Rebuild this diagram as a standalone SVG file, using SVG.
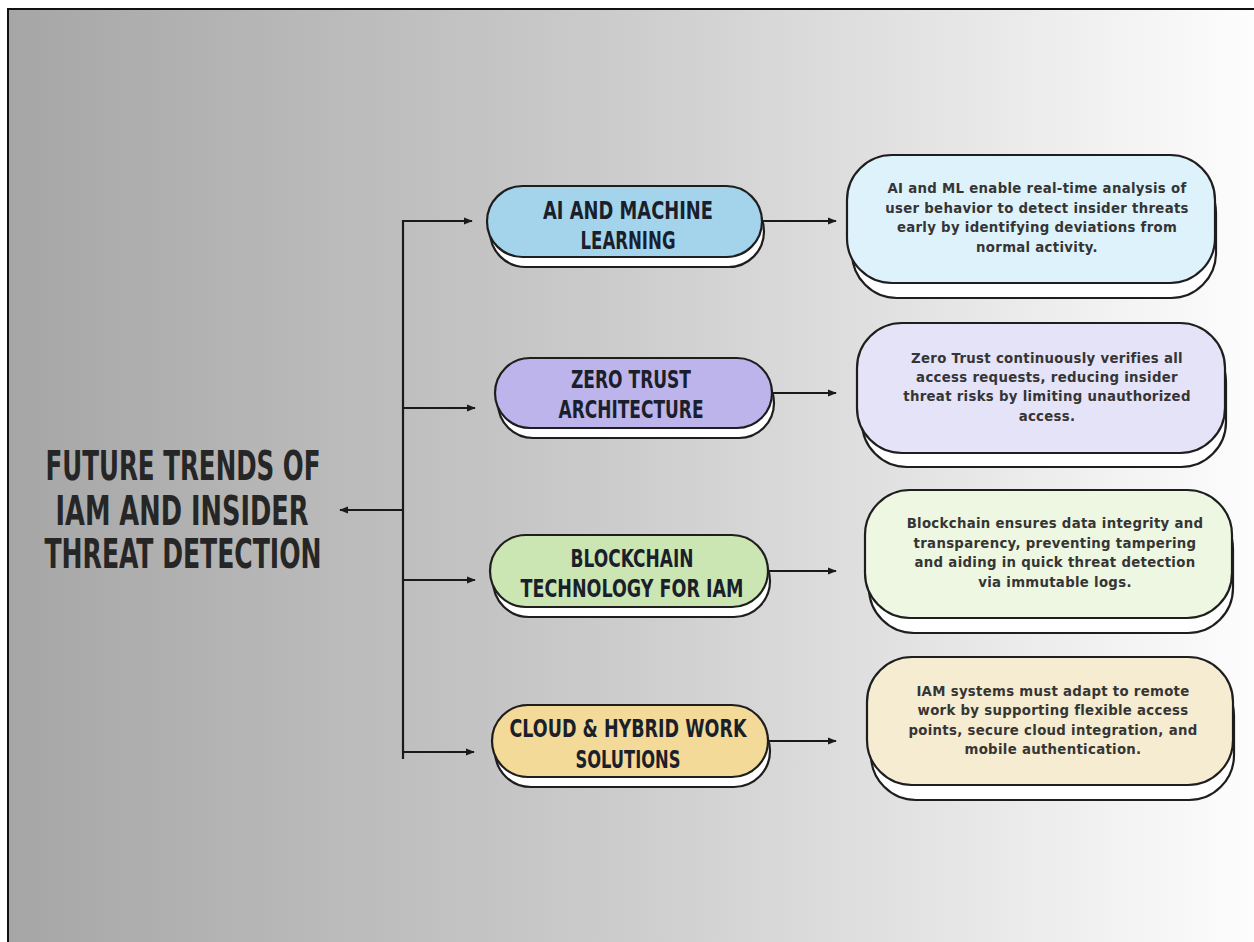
<svg xmlns="http://www.w3.org/2000/svg" width="1254" height="942" viewBox="0 0 1254 942">
<defs>
<linearGradient id="bg" x1="0" y1="0" x2="1" y2="0">
<stop offset="0" stop-color="#a6a6a6"/>
<stop offset="0.5" stop-color="#cdcdcd"/>
<stop offset="1" stop-color="#fdfdfd"/>
</linearGradient>
<marker id="ah" viewBox="0 0 10 10" refX="9" refY="5" markerWidth="9" markerHeight="9" markerUnits="userSpaceOnUse" orient="auto">
<path d="M0,1 L10,5 L0,9 Z" fill="#1a1a1a"/>
</marker>
<style>
.ln{stroke:#1a1a1a;stroke-width:2.2;fill:none}
.pill{stroke:#1e1e1e;stroke-width:2.2}
.sh{fill:#ffffff;stroke:#1e1e1e;stroke-width:2.2}
.pt{font-family:"DejaVu Sans Condensed","DejaVu Sans",sans-serif;font-weight:bold;font-size:25px;fill:#1b1f2b;text-anchor:middle}
.dt{font-family:"DejaVu Sans",Verdana,sans-serif;font-weight:bold;font-size:13.3px;letter-spacing:0.3px;fill:#353535;text-anchor:middle}
.tt{font-family:"DejaVu Sans Condensed","DejaVu Sans",sans-serif;font-weight:bold;font-size:40px;fill:#262626;text-anchor:middle}
</style>
</defs>
<rect x="0" y="0" width="1254" height="942" fill="#ffffff"/>
<rect x="8" y="9" width="1246" height="933" fill="url(#bg)"/>
<path d="M8,942 L8,9 L1254,9" stroke="#111" stroke-width="2" fill="none"/>

<g id="title">
<text class="tt" x="183" y="480" textLength="275" lengthAdjust="spacingAndGlyphs">FUTURE TRENDS OF</text>
<text class="tt" x="182" y="525" textLength="253" lengthAdjust="spacingAndGlyphs">IAM AND INSIDER</text>
<text class="tt" x="183" y="568" textLength="277" lengthAdjust="spacingAndGlyphs">THREAT DETECTION</text>
</g>

<g id="connectors">
<path class="ln" d="M403,220 L403,759"/>
<path class="ln" d="M403,510 L340,510" marker-end="url(#ah)"/>
<path class="ln" d="M402,221 L472,221" marker-end="url(#ah)"/>
<path class="ln" d="M402,408 L475,408" marker-end="url(#ah)"/>
<path class="ln" d="M402,580 L475,580" marker-end="url(#ah)"/>
<path class="ln" d="M402,752 L474,752" marker-end="url(#ah)"/>
<path class="ln" d="M762,221 L836,221" marker-end="url(#ah)"/>
<path class="ln" d="M772,393 L836,393" marker-end="url(#ah)"/>
<path class="ln" d="M768,571 L836,571" marker-end="url(#ah)"/>
<path class="ln" d="M768,741 L836,741" marker-end="url(#ah)"/>
</g>

<g id="ai-ml">
<rect class="sh" x="490" y="196" width="274" height="71" rx="35.5"/>
<rect class="pill" x="487" y="186" width="275" height="71" rx="35.5" fill="#a3d4ec"/>
<text class="pt" x="628" y="219" textLength="170" lengthAdjust="spacingAndGlyphs">AI AND MACHINE</text>
<text class="pt" x="628" y="249" textLength="95" lengthAdjust="spacingAndGlyphs">LEARNING</text>
</g>

<g id="zero-trust">
<rect class="sh" x="498" y="368" width="276" height="70" rx="35"/>
<rect class="pill" x="495" y="358" width="277" height="70" rx="35" fill="#bcb4ea"/>
<text class="pt" x="631" y="388" textLength="120" lengthAdjust="spacingAndGlyphs">ZERO TRUST</text>
<text class="pt" x="631" y="418" textLength="145" lengthAdjust="spacingAndGlyphs">ARCHITECTURE</text>
</g>

<g id="blockchain">
<rect class="sh" x="493" y="545" width="277" height="72" rx="36"/>
<rect class="pill" x="490" y="535" width="278" height="72" rx="36" fill="#cbe6b3"/>
<text class="pt" x="632" y="567" textLength="123" lengthAdjust="spacingAndGlyphs">BLOCKCHAIN</text>
<text class="pt" x="632" y="597" textLength="223" lengthAdjust="spacingAndGlyphs">TECHNOLOGY FOR IAM</text>
</g>

<g id="cloud">
<rect class="sh" x="495" y="715" width="275" height="72" rx="36"/>
<rect class="pill" x="492" y="705" width="276" height="72" rx="36" fill="#f3da98"/>
<text class="pt" x="628" y="737" textLength="237" lengthAdjust="spacingAndGlyphs">CLOUD &amp; HYBRID WORK</text>
<text class="pt" x="628" y="768" textLength="105" lengthAdjust="spacingAndGlyphs">SOLUTIONS</text>
</g>

<g id="desc-ai">
<rect class="sh" x="852" y="168" width="364" height="130" rx="45"/>
<rect class="pill" x="847" y="155" width="368" height="128" rx="45" fill="#def2fb"/>
<text class="dt" x="1037" y="193">AI and ML enable real-time analysis of</text>
<text class="dt" x="1037" y="213">user behavior to detect insider threats</text>
<text class="dt" x="1037" y="232">early by identifying deviations from</text>
<text class="dt" x="1037" y="252">normal activity.</text>
</g>

<g id="desc-zero">
<rect class="sh" x="862" y="337" width="364" height="130" rx="45"/>
<rect class="pill" x="857" y="323" width="368" height="130" rx="45" fill="#e5e3f8"/>
<text class="dt" x="1047" y="363">Zero Trust continuously verifies all</text>
<text class="dt" x="1047" y="382">access requests, reducing insider</text>
<text class="dt" x="1047" y="401">threat risks by limiting unauthorized</text>
<text class="dt" x="1047" y="421">access.</text>
</g>

<g id="desc-blockchain">
<rect class="sh" x="869" y="504" width="364" height="129" rx="45"/>
<rect class="pill" x="865" y="490" width="367" height="128" rx="45" fill="#eef7e1"/>
<text class="dt" x="1055" y="528">Blockchain ensures data integrity and</text>
<text class="dt" x="1055" y="548">transparency, preventing tampering</text>
<text class="dt" x="1055" y="567">and aiding in quick threat detection</text>
<text class="dt" x="1055" y="587">via immutable logs.</text>
</g>

<g id="desc-cloud">
<rect class="sh" x="871" y="671" width="363" height="129" rx="45"/>
<rect class="pill" x="867" y="657" width="366" height="128" rx="45" fill="#f6ecd1"/>
<text class="dt" x="1053" y="696">IAM systems must adapt to remote</text>
<text class="dt" x="1053" y="715">work by supporting flexible access</text>
<text class="dt" x="1053" y="735">points, secure cloud integration, and</text>
<text class="dt" x="1053" y="754">mobile authentication.</text>
</g>
</svg>
